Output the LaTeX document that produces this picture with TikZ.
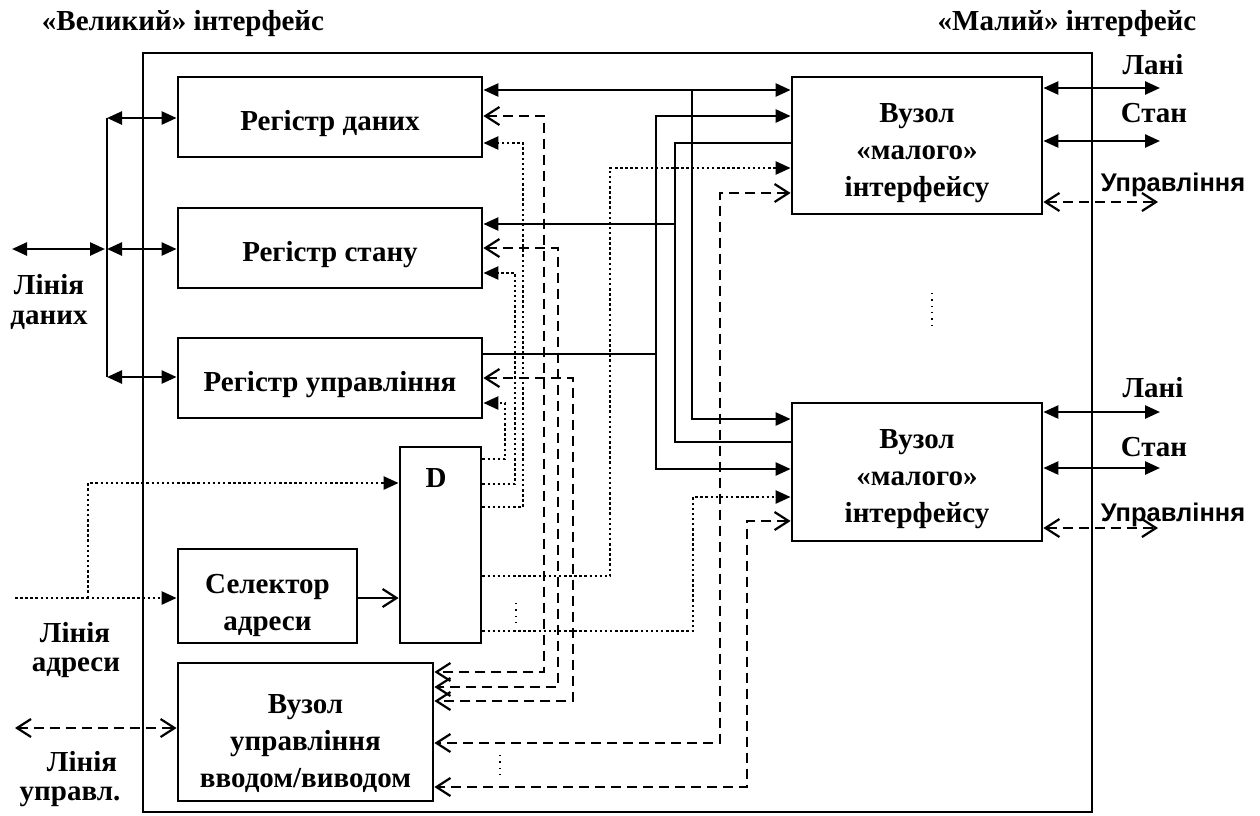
\documentclass[tikz,border=0pt]{standalone}
\usepackage{fontspec}
\setmainfont{Liberation Serif}
\newfontfamily\sansfam{Liberation Sans}
\usetikzlibrary{arrows.meta}
\newcommand\lblfont{\bfseries\fontsize{29}{37}\selectfont}
\newcommand\dn[1]{\rule{0pt}{#1pt}}
\tikzset{
  FT/.tip={Triangle[length=15pt,width=13pt]},
  OB/.tip={Straight Barb[length=14pt,width=18pt,line width=2.2pt]},
  box/.style={draw, line width=2.8pt, inner sep=0pt, align=center, font=\lblfont},
  lbl/.style={inner sep=0pt, align=center, font=\lblfont},
  slbl/.style={inner sep=0pt, font=\sansfam\bfseries\fontsize{25.5}{30}\selectfont},
  wire/.style={line width=2.5pt},
  dotw/.style={line width=2.5pt, dash pattern=on 2.5pt off 2.6pt},
  dashw/.style={line width=2.4pt, dash pattern=on 10pt off 6pt},
  ell/.style={line width=1.3pt, dash pattern=on 1.3pt off 5pt},
}
\begin{document}
\begin{tikzpicture}[x=1pt,y=-1pt]
\useasboundingbox (0,0) rectangle (1260,815);
\fill[white] (0,0) rectangle (1260,815);

% frame
\node[draw, line width=2.8pt, minimum width=949pt, minimum height=759pt, inner sep=0pt] (frame) at (617.5,432.5) {};

% titles
\node[lbl] (t1) at (183,24) {«Великий» інтерфейс};
\node[lbl] (t2) at (1067,24) {«Малий» інтерфейс};

% blocks
\node[box, minimum width=304pt, minimum height=80pt] (rd) at (330,117) {\dn{34}Регістр даних};
\node[box, minimum width=304pt, minimum height=80pt] (rs) at (330,248) {\dn{34}Регістр стану};
\node[box, minimum width=304pt, minimum height=80pt] (ru) at (330,378) {\dn{34}Регістр управління};
\node[box, minimum width=81pt, minimum height=196pt] (dd) at (440.5,545) {};
\node[lbl] (dl) at (436,478) {D};
\node[box, minimum width=179pt, minimum height=94pt] (sel) at (267.5,596) {\dn{39}Селектор\\адреси};
\node[box, minimum width=255pt, minimum height=138pt] (vu) at (305.5,732) {\dn{43}Вузол\\управління\\вводом/виводом};
\node[box, minimum width=250pt, minimum height=137pt] (m1) at (917,145.5) {\dn{34}Вузол\\«малого»\\інтерфейсу};
\node[box, minimum width=250pt, minimum height=138pt] (m2) at (917,472) {\dn{34}Вузол\\«малого»\\інтерфейсу};

% left labels
\node[lbl] (ld1) at (49,285) {Лінія};
\node[lbl] (ld2) at (49,320) {даних};
\node[lbl] (la1) at (75,633) {Лінія};
\node[lbl] (la2) at (76,668) {адреси};
\node[lbl] (lc1) at (82,762) {Лінія};
\node[lbl] (lc2) at (70,797) {управл.};

% right labels
\node[lbl] (r1a) at (1153,65) {Лані};
\node[lbl] (r1b) at (1154,113) {Стан};
\node[slbl] (r1c) at (1173,185) {Управління};
\node[lbl] (r2a) at (1153,388) {Лані};
\node[lbl] (r2b) at (1154,447) {Стан};
\node[slbl] (r2c) at (1173,515) {Управління};

% data bus (left)
\coordinate (bt) at (107,118);
\coordinate (bm) at (107,249);
\coordinate (bb) at (107,377);
\coordinate (dataIn) at (12,249);
\draw[wire] (bt) -- (bb);
\draw[wire,FT-FT] (bt) -- (bt -| rd.west);
\draw[wire,FT-FT] (bm) -- (bm -| rs.west);
\draw[wire,FT-FT] (bb) -- (bb -| ru.west);
\draw[wire,FT-FT] (dataIn) -- ([xshift=-2pt]bm);

% address line
\coordinate (adrIn) at (15,598);
\coordinate (adrJ) at (88,598);
\draw[dotw,-FT] (adrIn) -- (adrIn -| sel.west);
\draw[dotw,-FT] (adrJ) |- (dd.west |- 0,483);

% control line
\coordinate (ctlIn) at (15,728);
\draw[dashw,OB-OB] (ctlIn) -- (ctlIn -| vu.west);

% selector -> D
\draw[wire,-OB] (sel.east |- 0,598) -- (dd.west |- 0,598);

% solid buses between registers and small-interface nodes
\coordinate (j692) at (692,90);
\coordinate (j656) at (656,354);
\coordinate (j675) at (675,224);
\draw[wire,FT-FT] (rd.east |- 0,90) -- (m1.west |- 0,90);
\draw[wire,-FT] (j692) |- (m2.west |- 0,419);
\draw[wire,-FT] (ru.east |- 0,354) -- (j656) |- (m1.west |- 0,116);
\draw[wire,-FT] (j656) |- (m2.west |- 0,469);
\draw[wire,-FT] (m1.west |- 0,143) -| (j675) -- (rs.east |- 0,224);
\draw[wire] (m2.west |- 0,442) -| (j675);

% dotted outputs of D
\draw[dotw,-FT] (dd.east |- 0,459) -| (505,403) -- (ru.east |- 0,403);
\draw[dotw,-FT] (dd.east |- 0,484) -| (515,273) -- (rs.east |- 0,273);
\draw[dotw,-FT] (dd.east |- 0,507) -| (523,143) -- (rd.east |- 0,143);
\draw[dotw,-FT] (dd.east |- 0,576) -| (610,168) -- (m1.west |- 0,168);
\draw[dotw,-FT] (dd.east |- 0,631) -| (693,497) -- (m2.west |- 0,497);

% dashed control lines to the I/O control node
\draw[dashw,OB-OB] (rd.east |- 0,116) -| (544,672) -- (vu.east |- 0,672);
\draw[dashw,OB-OB] (rs.east |- 0,248) -| (558,687) -- (vu.east |- 0,687);
\draw[dashw,OB-OB] (ru.east |- 0,378) -| (573,701) -- (vu.east |- 0,701);
\draw[dashw,OB-OB] (m1.west |- 0,193) -| (720,743) -- (vu.east |- 0,743);
\draw[dashw,OB-OB] (m2.west |- 0,521) -| (747,787) -- (vu.east |- 0,787);

% right outer lines
\coordinate (o1) at (1160,88);
\coordinate (o2) at (1160,141);
\coordinate (o3) at (1158,202);
\coordinate (o4) at (1160,412);
\coordinate (o5) at (1160,468);
\coordinate (o6) at (1158,528);
\draw[wire,FT-FT] (m1.east |- o1) -- (o1);
\draw[wire,FT-FT] (m1.east |- o2) -- (o2);
\draw[dashw,OB-OB] (m1.east |- o3) -- (o3);
\draw[wire,FT-FT] (m2.east |- o4) -- (o4);
\draw[wire,FT-FT] (m2.east |- o5) -- (o5);
\draw[dashw,OB-OB] (m2.east |- o6) -- (o6);

% ellipsis marks
\draw[ell] (932,293) -- (932,327);
\draw[ell] (516,603) -- (516,622);
\draw[ell] (500,755) -- (500,775);
\end{tikzpicture}
\end{document}
